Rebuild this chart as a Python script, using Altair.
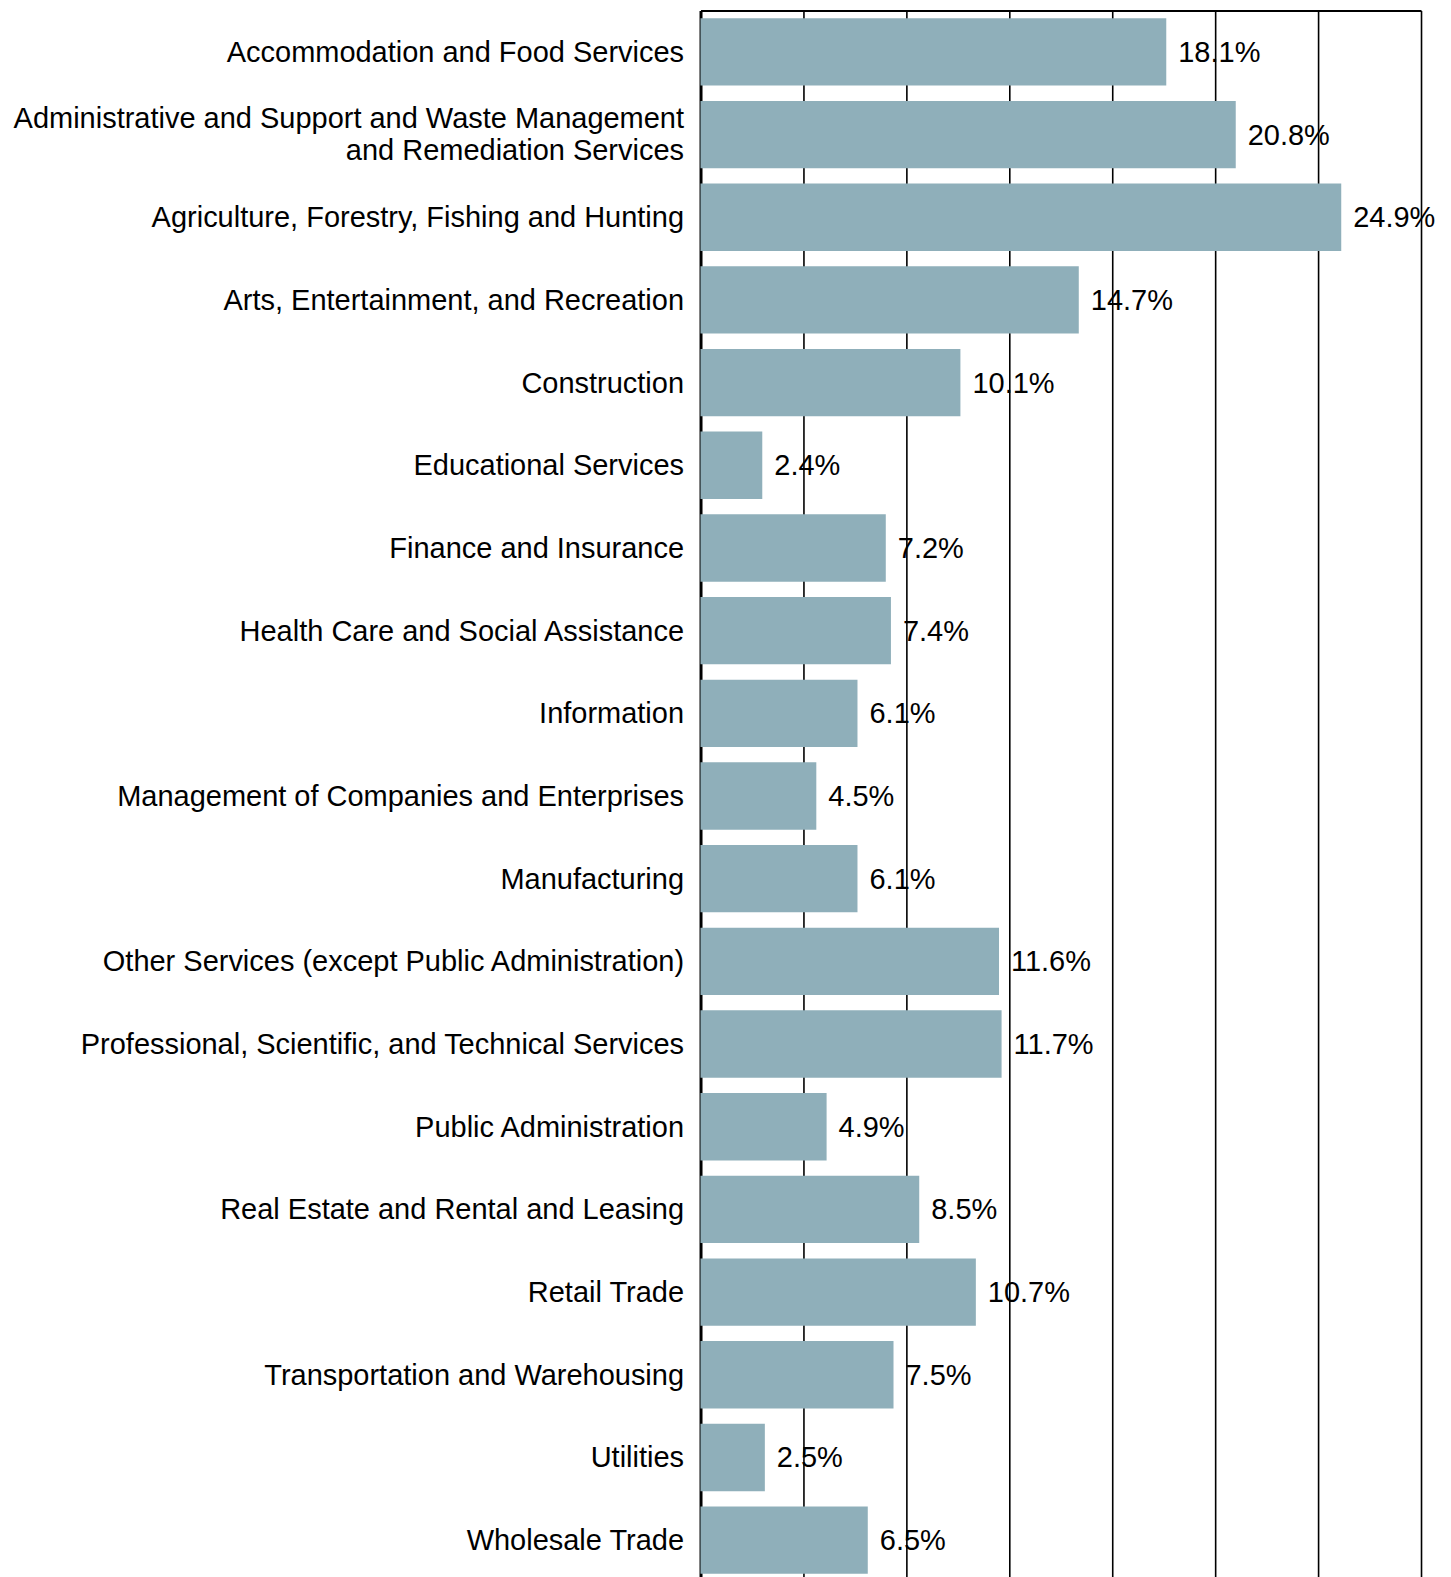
import altair as alt
import pandas as pd

industries = [
    "Accommodation and Food Services",
    "Administrative and Support and Waste Management and Remediation Services",
    "Agriculture, Forestry, Fishing and Hunting",
    "Arts, Entertainment, and Recreation",
    "Construction",
    "Educational Services",
    "Finance and Insurance",
    "Health Care and Social Assistance",
    "Information",
    "Management of Companies and Enterprises",
    "Manufacturing",
    "Other Services (except Public Administration)",
    "Professional, Scientific, and Technical Services",
    "Public Administration",
    "Real Estate and Rental and Leasing",
    "Retail Trade",
    "Transportation and Warehousing",
    "Utilities",
    "Wholesale Trade",
]
values = [18.1, 20.8, 24.9, 14.7, 10.1, 2.4, 7.2, 7.4, 6.1, 4.5, 6.1,
          11.6, 11.7, 4.9, 8.5, 10.7, 7.5, 2.5, 6.5]
grid_values = [0, 4, 8, 12, 16, 20, 24, 28]

df = pd.DataFrame({"industry": industries, "value": values})
df["label"] = df["value"].map(lambda v: f"{v:.1f}%")

FONT = "Liberation Sans"
long_name = industries[1]
label_expr = (
    f"datum.value == '{long_name}' ? "
    "['Administrative and Support and Waste Management', 'and Remediation Services'] "
    ": datum.label"
)

y_enc = alt.Y(
    "industry:N",
    sort=industries,
    title=None,
    scale=alt.Scale(paddingInner=0.185, paddingOuter=0.0925),
    axis=alt.Axis(
        domain=True, domainColor="black", domainWidth=3,
        ticks=False, labelPadding=17, labelFontSize=29, labelFont=FONT,
        labelColor="black", labelLimit=1000, labelExpr=label_expr,
        labelLineHeight=32, grid=False,
        labelOffset={"condition": {"test": f"datum.value == '{long_name}'", "value": -16}, "value": 1},
    ),
)
x_enc = alt.X(
    "value:Q",
    title=None,
    scale=alt.Scale(domain=[0, 28], nice=False),
    axis=alt.Axis(
        orient="top", values=grid_values, labels=False, ticks=False,
        domain=True, domainColor="black", domainWidth=2,
        grid=True, gridColor="black", gridWidth=1.6, gridOpacity=1,
    ),
)

bars = alt.Chart(df).mark_bar(color="#8FAFBA").encode(x=x_enc, y=y_enc)
text = alt.Chart(df).mark_text(
    align="left", baseline="middle", dx=12, dy=1, fontSize=29, font=FONT, color="black"
).encode(x="value:Q", y=alt.Y("industry:N", sort=industries), text="label:N")

chart = (
    alt.layer(bars, text)
    .properties(
        width=721, height=1572,
        autosize=alt.AutoSizeParams(type="none"),
        padding={"left": 693, "top": 2, "right": 22, "bottom": 10},
    )
    .configure_view(strokeWidth=0)
)
chart.save("out.html", embed_options={"renderer": "svg", "actions": False})
